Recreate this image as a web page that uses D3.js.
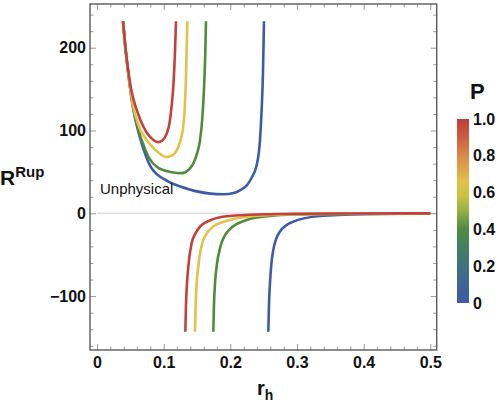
<!DOCTYPE html>
<html>
<head>
<meta charset="utf-8">
<script src="https://cdn.jsdelivr.net/npm/d3@7"></script>
<style>
body { margin: 0; background: #fff; }
svg text { font-family: "Liberation Sans", Arial, sans-serif; }
</style>
</head>
<body>
<svg id="chart" width="504" height="404"></svg>
<script>
// values
var pLevels = [0, 0.4, 0.65, 1.0]
var seriesColors = ["#3d5ba6", "#4e8b3b", "#e3c24a", "#c5403d"]

var upperBlue = [[0.039,232],[0.042,205],[0.045,182],[0.048,162],[0.052,138],[0.056,119],[0.06,105],[0.065,90],[0.07,77],[0.075,66],[0.08,57],[0.09,47],[0.1,41.5],[0.11,37],[0.125,32.5],[0.15,26.5],[0.17,23.8],[0.19,23],[0.205,24.5],[0.215,28],[0.225,34],[0.232,43],[0.2395,58],[0.2445,88],[0.247,125],[0.249,170],[0.2505,232]]
var upperGreen = [[0.039,232],[0.042,205],[0.045,182],[0.048,162],[0.052,138],[0.056,121],[0.06,108],[0.065,93],[0.07,82],[0.075,72],[0.08,64.5],[0.09,56],[0.1,52],[0.11,50],[0.1275,48.5],[0.138,53],[0.145,61],[0.15,72],[0.1545,88],[0.158,115],[0.1605,150],[0.1625,195],[0.1635,232]]
var upperYellow = [[0.039,232],[0.042,205],[0.045,183],[0.048,163],[0.052,140],[0.056,123],[0.06,112],[0.065,101],[0.07,94],[0.075,88],[0.08,83],[0.09,75],[0.1035,68],[0.112,69.5],[0.1195,76],[0.1245,86],[0.1285,100],[0.1315,125],[0.1335,165],[0.1355,232]]
var upperRed = [[0.039,232],[0.042,206],[0.045,184],[0.048,166],[0.052,147],[0.056,134],[0.06,124],[0.065,113],[0.07,104],[0.075,97],[0.08,92],[0.0915,86],[0.098,88],[0.1045,96],[0.109,110],[0.112,130],[0.115,160],[0.117,195],[0.1185,232]]

var lowerBlue = [[0.257,-143],[0.258,-110],[0.2595,-84],[0.2615,-62],[0.2645,-44],[0.2745,-22],[0.2945,-10],[0.3345,-3.2],[0.4,-1],[0.5,-0.3]]
var lowerGreen = [[0.1745,-143],[0.1755,-110],[0.177,-85],[0.1795,-64],[0.1845,-42],[0.1995,-19],[0.2245,-8],[0.2595,-3.2],[0.3,-1.5],[0.4,-0.4],[0.5,-0.15]]
var lowerYellow = [[0.147,-143],[0.148,-110],[0.1495,-85],[0.152,-64],[0.1595,-32],[0.1745,-16],[0.1995,-8],[0.25,-2.5],[0.3,-1],[0.4,-0.3],[0.5,-0.1]]
var lowerRed = [[0.1325,-143],[0.1335,-110],[0.135,-85],[0.137,-64],[0.142,-36],[0.148,-24],[0.1545,-16],[0.1745,-7],[0.1995,-3.2],[0.25,-1.2],[0.3,-0.5],[0.4,-0.2],[0.5,-0.1]]

var xTicks = [0, 0.1, 0.2, 0.3, 0.4, 0.5]
var yTicks = [-100, 0, 100, 200]
var barTicks = [0, 0.2, 0.4, 0.6, 0.8, 1.0]

var branches = [
  {color: 0, upper: upperBlue, lower: lowerBlue},
  {color: 1, upper: upperGreen, lower: lowerGreen},
  {color: 2, upper: upperYellow, lower: lowerYellow},
  {color: 3, upper: upperRed, lower: lowerRed}
]

var frame = {left: 90, right: 436.7, top: 4, bottom: 350}

var x = d3.scaleLinear().domain([-0.0105, 0.5096]).range([frame.left, frame.right])
var y = d3.scaleLinear().domain([-165.1, 252.8]).range([frame.bottom, frame.top])

var svg = d3.select("#chart")

// zero axis line
svg.append("line")
.attr("x1", x(0)).attr("x2", frame.right)
.attr("y1", y(0)).attr("y2", y(0))
.attr("stroke", "#dedede").attr("stroke-width", 1.6)

//curves
var line = d3.line()
.x(d => x(d[0]))
.y(d => y(d[1]))
.curve(d3.curveMonotoneX)

branches.forEach(function(b) {
  [b.upper, b.lower].forEach(function(pts) {
    svg.append("path")
    .attr("d", line(pts))
    .attr("fill", "none")
    .attr("stroke", seriesColors[b.color])
    .attr("stroke-width", 2.6)
  })
})

// minor tick values
var xMinor = d3.range(-0.0, 0.51, 0.02).filter(v => Math.abs(v*10 - Math.round(v*10)) > 1e-6)
var yMinor = d3.range(-160, 260, 20).filter(v => v % 100 != 0)

function styleAxis(g) {
  g.select(".domain").remove()
  g.selectAll(".tick line").attr("stroke", "#9a9a9a").attr("stroke-width", 1)
  g.selectAll("text").attr("font-size", 16).attr("font-weight", "bold").attr("fill", "#111")
}

var fmtX = d => d == 0 ? "0" : d3.format(".1f")(d)
var fmtY = d => d < 0 ? "\u2212" + Math.abs(d) : String(d)

svg.append("g").attr("transform", "translate(0," + frame.bottom + ")")
.call(d3.axisBottom(x).tickValues(xTicks).tickSize(-6).tickPadding(7).tickFormat(fmtX))
.call(styleAxis)
svg.append("g").attr("transform", "translate(0," + frame.bottom + ")")
.call(d3.axisBottom(x).tickValues(xMinor).tickSize(-3.5).tickFormat(""))
.call(styleAxis)
svg.append("g").attr("transform", "translate(0," + frame.top + ")")
.call(d3.axisTop(x).tickValues(xTicks).tickSize(-6).tickFormat(""))
.call(styleAxis)
svg.append("g").attr("transform", "translate(0," + frame.top + ")")
.call(d3.axisTop(x).tickValues(xMinor).tickSize(-3.5).tickFormat(""))
.call(styleAxis)

svg.append("g").attr("transform", "translate(" + frame.left + ",0)")
.call(d3.axisLeft(y).tickValues(yTicks).tickSize(-6).tickPadding(4).tickFormat(fmtY))
.call(styleAxis)
svg.append("g").attr("transform", "translate(" + frame.left + ",0)")
.call(d3.axisLeft(y).tickValues(yMinor).tickSize(-3.5).tickFormat(""))
.call(styleAxis)
svg.append("g").attr("transform", "translate(" + frame.right + ",0)")
.call(d3.axisRight(y).tickValues(yTicks).tickSize(-6).tickFormat(""))
.call(styleAxis)
svg.append("g").attr("transform", "translate(" + frame.right + ",0)")
.call(d3.axisRight(y).tickValues(yMinor).tickSize(-3.5).tickFormat(""))
.call(styleAxis)

// frame
svg.append("rect")
.attr("x", frame.left).attr("y", frame.top)
.attr("width", frame.right - frame.left).attr("height", frame.bottom - frame.top)
.attr("fill", "none").attr("stroke", "#5a5a5a").attr("stroke-width", 1.4)

// labels
svg.append("text").attr("x", 100).attr("y", 194)
.attr("font-size", 15).attr("fill", "#111").text("Unphysical")

var yl = svg.append("text").attr("x", 0).attr("y", 185).attr("font-weight", "bold").attr("fill", "#111")
yl.append("tspan").attr("font-size", 21).text("R")
yl.append("tspan").attr("font-size", 15).attr("dy", -8).text("Rup")

var xl = svg.append("text").attr("x", 257).attr("y", 395).attr("font-weight", "bold").attr("fill", "#111")
xl.append("tspan").attr("font-size", 20).text("r")
xl.append("tspan").attr("font-size", 14).attr("dy", 5).text("h")

// colour bar
var bar = {x: 457, w: 12, top: 119, bottom: 303}
var barColors = [
  [0, "#3d5aa8"], [0.15, "#3e6b8e"], [0.3, "#457f62"], [0.4, "#4f8a42"],
  [0.5, "#93b043"], [0.58, "#c9c242"], [0.66, "#e2c04a"], [0.8, "#d98a48"],
  [0.9, "#cc5d40"], [1.0, "#c33b3b"]
]
var grad = svg.append("defs").append("linearGradient").attr("id", "pgrad")
.attr("x1", 0).attr("y1", 1).attr("x2", 0).attr("y2", 0)
grad.selectAll("stop").data(barColors).enter().append("stop")
.attr("offset", d => d[0]).attr("stop-color", d => d[1])

var pScale = d3.scaleLinear().domain([0, 1]).range([bar.bottom, bar.top])

svg.append("rect").attr("x", bar.x).attr("y", bar.top)
.attr("width", bar.w).attr("height", bar.bottom - bar.top)
.attr("fill", "url(#pgrad)")

svg.append("g").attr("transform", "translate(" + (bar.x + bar.w) + ",0)")
.call(d3.axisRight(pScale).tickValues(barTicks).tickSize(0).tickPadding(4).tickFormat(d => d == 0 ? "0" : d3.format(".1f")(d)))
.call(g => g.select(".domain").remove())
.call(g => g.selectAll("text").attr("font-size", 16).attr("font-weight", "bold").attr("fill", "#111"))

svg.append("text").attr("x", 470).attr("y", 99)
.attr("font-size", 22).attr("font-weight", "bold").attr("fill", "#111").text("P")
</script>
</body>
</html>
